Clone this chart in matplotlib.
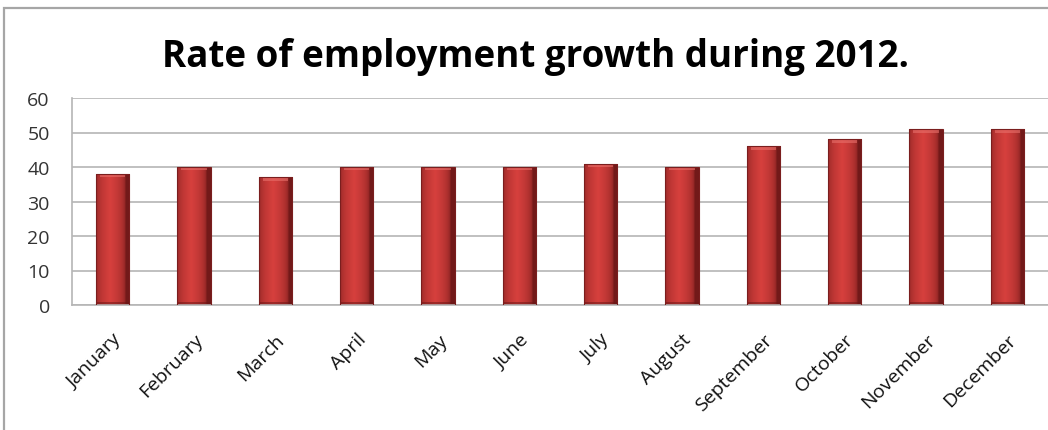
import numpy as np
import matplotlib.pyplot as plt
from matplotlib.patches import Rectangle

# --- Dados ---
meses = ['January', 'February', 'March', 'April', 'May', 'June', 'July',
         'August', 'September', 'October', 'November', 'December']
taxa = [38, 40, 37, 40, 40, 40, 41, 40, 46, 48, 51, 51]
ticks_y = [0, 10, 20, 30, 40, 50, 60]

plt.rcParams['font.family'] = ['Open Sans', 'DejaVu Sans']

fig = plt.figure(figsize=(10.48, 4.31), dpi=100)
W, H = 1048, 431

# moldura cinza do gráfico
fig.add_artist(Rectangle((4 / W, -0.1), 1.2, 1 - 9 / H + 0.1, transform=fig.transFigure,
                         fill=False, edgecolor='#a6a6a6', linewidth=1.6))

ax = fig.add_axes([72 / W, 1 - 306 / H, (1048 - 72) / W, (306 - 99) / H])
x = np.arange(len(meses))
largura = 0.41

# gradiente horizontal: bordas escuras, centro claro
t = np.linspace(0, 1, 64)
perfil = np.clip(1 - np.abs(t - 0.42) * 2.2, 0, 1) ** 0.35
escuro = np.array([0.45, 0.10, 0.10])
claro = np.array([0.84, 0.25, 0.24])
grad = escuro[None, :] + (claro - escuro)[None, :] * perfil[:, None]
img = np.tile(grad[None, :, :], (2, 1, 1))

barras = ax.bar(x, taxa, width=largura, color='none', edgecolor='#7a1e1e', linewidth=0.8, zorder=3)
for b, v in zip(barras, taxa):
    x0 = b.get_x()
    im = ax.imshow(img, extent=[x0, x0 + largura, 0, v], aspect='auto', zorder=2,
                   interpolation='bilinear')
    im.set_clip_path(b)
    # brilho no topo da barra
    topo = Rectangle((x0 + largura * 0.12, v - 1.0), largura * 0.76, 1.0,
                     facecolor='#e8706b', edgecolor='none', alpha=0.6, zorder=2.5)
    ax.add_patch(topo)
    base = Rectangle((x0, 0), largura, 0.8, facecolor='#6a1616', edgecolor='none',
                     alpha=0.5, zorder=2.5)
    ax.add_patch(base)

ax.set_xlim(-0.5, len(meses) - 0.5)
ax.set_ylim(0, 60)
ax.set_yticks(ticks_y)
ax.yaxis.grid(True, color='#b5b5b5', linewidth=1.2, zorder=0)
ax.set_axisbelow(True)
ax.tick_params(length=0, labelsize=14, colors='#333333', pad=16)
ax.set_xticks(x)
ax.set_xticklabels(meses, rotation=45, ha='right', rotation_mode='anchor', fontsize=14,
                   color='#111111')
ax.tick_params(axis='x', pad=18)
for lado in ['top', 'right']:
    ax.spines[lado].set_visible(False)
for lado in ['left', 'bottom']:
    ax.spines[lado].set_color('#b5b5b5')
    ax.spines[lado].set_linewidth(1.2)

fig.text(535 / W, 1 - 57 / H, 'Rate of employment growth during 2012.',
         ha='center', va='center', fontsize=26.5, fontweight='bold', color='#000000')

fig.savefig('out.png', dpi=100)
